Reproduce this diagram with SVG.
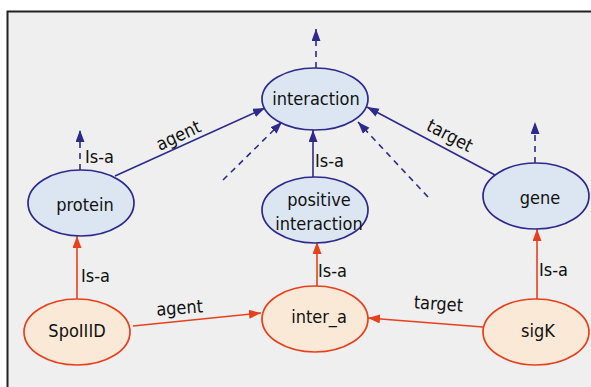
<svg xmlns="http://www.w3.org/2000/svg" width="591" height="387" viewBox="0 0 591 387">
<style>
text{font-family:"DejaVu Sans Condensed","DejaVu Sans","Liberation Sans",sans-serif;font-stretch:condensed;font-size:18px;fill:#111}
.nb{fill:#dce6f2;stroke:#2e2a8c;stroke-width:1.7}
.nr{fill:#fbe9d7;stroke:#e8401c;stroke-width:1.7}
.eb{stroke:#2e2a8c;stroke-width:1.6;fill:none;marker-end:url(#ab)}
.ed{stroke-dasharray:6 5}
.er{stroke:#e8401c;stroke-width:1.6;fill:none;marker-end:url(#ar)}
.c{text-anchor:middle}
</style>
<defs>
<marker id="ab" markerUnits="userSpaceOnUse" markerWidth="13" markerHeight="10" refX="12" refY="4.5" orient="auto"><path d="M0,0 L12,4.5 L0,9 z" fill="#2e2a8c"/></marker>
<marker id="ar" markerUnits="userSpaceOnUse" markerWidth="13" markerHeight="10" refX="12" refY="4.5" orient="auto"><path d="M0,0 L12,4.5 L0,9 z" fill="#e8401c"/></marker>
</defs>
<rect x="0" y="0" width="591" height="387" fill="#ffffff"/>
<rect x="7.5" y="11.5" width="620" height="420" fill="#efefef" stroke="#222" stroke-width="2"/>
<g id="connectors">
<line class="eb ed" x1="316" y1="68" x2="316" y2="29"/>
<line class="eb ed" x1="80" y1="170" x2="80" y2="130"/>
<line class="eb ed" x1="535" y1="163" x2="535" y2="122"/>
<line class="eb" x1="313" y1="177" x2="313" y2="130"/>
<line class="eb" x1="115" y1="176" x2="265" y2="108"/>
<line class="eb" x1="495" y1="175" x2="367" y2="107"/>
<line class="eb ed" x1="223" y1="180" x2="282" y2="122"/>
<line class="eb ed" x1="428" y1="197" x2="358" y2="122"/>
<line class="er" x1="77" y1="299" x2="77" y2="236"/>
<line class="er" x1="317" y1="286" x2="317" y2="242"/>
<line class="er" x1="537" y1="299" x2="537" y2="229"/>
<line class="er" x1="133" y1="326" x2="261" y2="313"/>
<line class="er" x1="483" y1="327" x2="368" y2="318"/>
<text x="85" y="163">Is-a</text>
<text class="c" transform="translate(181,141) rotate(-25)">agent</text>
<text class="c" transform="translate(447,141) rotate(28)">target</text>
<text x="315" y="167">Is-a</text>
<text x="81" y="282">Is-a</text>
<text x="318" y="277">Is-a</text>
<text x="539" y="276">Is-a</text>
<text class="c" transform="translate(180,314) rotate(-4)">agent</text>
<text class="c" transform="translate(438,310) rotate(4)">target</text>
</g>
<g id="interaction"><ellipse class="nb" cx="315" cy="99" rx="53" ry="31"/><text class="c" x="316" y="105">interaction</text></g>
<g id="protein"><ellipse class="nb" cx="81" cy="203" rx="53" ry="33"/><text class="c" x="85" y="211">protein</text></g>
<g id="positive_interaction"><ellipse class="nb" cx="315" cy="210" rx="53" ry="33"/><text class="c" x="319" y="206">positive</text><text class="c" x="319" y="230">interaction</text></g>
<g id="gene"><ellipse class="nb" cx="536" cy="196" rx="53" ry="33"/><text class="c" x="540" y="204">gene</text></g>
<g id="SpoIIID"><ellipse class="nr" cx="77" cy="332" rx="53" ry="33"/><text class="c" x="77" y="337">SpoIIID</text></g>
<g id="inter_a"><ellipse class="nr" cx="315" cy="319" rx="53" ry="33"/><text class="c" x="319" y="323">inter_a</text></g>
<g id="sigK"><ellipse class="nr" cx="536" cy="332" rx="53" ry="33"/><text class="c" x="538" y="337">sigK</text></g>
</svg>
